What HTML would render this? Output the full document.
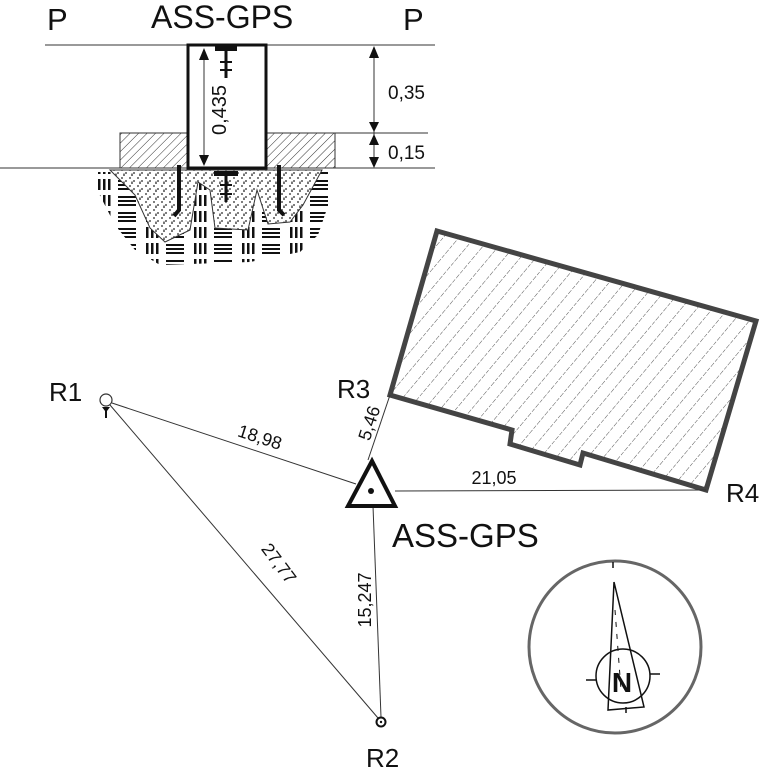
<!DOCTYPE html>
<html><head><meta charset="utf-8"><style>
html,body{margin:0;padding:0;background:#fff;width:761px;height:769px;overflow:hidden}
svg{display:block}
text{font-family:"Liberation Sans",sans-serif;fill:#111}
</style></head><body>
<svg width="761" height="769" viewBox="0 0 761 769" xmlns="http://www.w3.org/2000/svg">
<defs>
<pattern id="hatch" width="6" height="6" patternUnits="userSpaceOnUse" patternTransform="rotate(45)">
<line x1="0" y1="0" x2="0" y2="6" stroke="#333" stroke-width="1"/></pattern>
<pattern id="hatchB" width="12" height="12" patternUnits="userSpaceOnUse" patternTransform="rotate(40)">
<line x1="0" y1="0" x2="0" y2="12" stroke="#555" stroke-width="1" stroke-dasharray="4 1.5"/></pattern>
<pattern id="soil" width="48" height="16" patternUnits="userSpaceOnUse">
<rect x="2" y="3" width="2.5" height="11" fill="#111"/><rect x="7" y="3" width="2.5" height="11" fill="#111"/><rect x="12" y="3" width="2.5" height="11" fill="#111"/>
<rect x="22" y="4" width="18" height="2" fill="#111"/><rect x="22" y="8" width="18" height="2" fill="#111"/><rect x="22" y="12" width="18" height="2" fill="#111"/>
</pattern>
<pattern id="dots" width="8" height="8" patternUnits="userSpaceOnUse">
<circle cx="2" cy="2" r="0.9" fill="#222"/><circle cx="6" cy="5" r="0.9" fill="#222"/><ellipse cx="4" cy="7" rx="0.7" ry="1.8" fill="#333"/></pattern>
</defs>

<!-- top section -->
<text x="47" y="30" font-size="31">P</text>
<text x="151" y="28" font-size="32">ASS-GPS</text>
<text x="403" y="30" font-size="31">P</text>
<line x1="45" y1="45" x2="435" y2="45" stroke="#333" stroke-width="1"/>
<line x1="0" y1="168" x2="435" y2="168" stroke="#333" stroke-width="1"/>
<line x1="266" y1="133" x2="428" y2="133" stroke="#333" stroke-width="1"/>

<!-- soil -->
<path d="M88 172 L336 172 L330 200 L318 235 L300 252 L250 262 L160 265 L135 250 L115 225 Z" fill="url(#soil)"/>
<!-- concrete blobs -->
<path d="M110 170 L322 170 L303 205 L290 222 L268 224 L257 190 L248 230 L215 228 L210 190 L198 182 L190 230 L165 242 L150 228 L135 195 Z" fill="#fff" stroke="#333" stroke-width="1"/>
<path d="M110 170 L322 170 L303 205 L290 222 L268 224 L257 190 L248 230 L215 228 L210 190 L198 182 L190 230 L165 242 L150 228 L135 195 Z" fill="url(#dots)"/>

<rect x="120" y="133" width="67" height="35" fill="url(#hatch)" stroke="#333" stroke-width="1"/>
<rect x="266" y="133" width="69" height="35" fill="url(#hatch)" stroke="#333" stroke-width="1"/>
<rect x="188" y="45" width="78" height="123" fill="#fff" stroke="#111" stroke-width="3"/>
<!-- bolts -->
<rect x="215" y="46" width="22" height="5" fill="#111"/><line x1="226" y1="50" x2="226" y2="78" stroke="#111" stroke-width="3"/>
<line x1="220" y1="62" x2="232" y2="62" stroke="#111" stroke-width="2"/><line x1="220" y1="70" x2="232" y2="70" stroke="#111" stroke-width="2"/>
<rect x="214" y="171" width="24" height="5" fill="#111"/><line x1="226" y1="172" x2="226" y2="202" stroke="#111" stroke-width="3"/>
<line x1="220" y1="185" x2="232" y2="185" stroke="#111" stroke-width="2"/><line x1="220" y1="194" x2="232" y2="194" stroke="#111" stroke-width="2"/>
<path d="M179 165 L179 210 L174 216" fill="none" stroke="#111" stroke-width="4"/>
<path d="M279 165 L279 210 L284 215" fill="none" stroke="#111" stroke-width="4"/>
<!-- inner dim -->
<line x1="204" y1="50" x2="204" y2="164" stroke="#333" stroke-width="1"/>
<path d="M199 60 L204 48 L209 60 Z M199 155 L204 166 L209 155 Z" fill="#111"/>
<text transform="translate(226,110) rotate(-90)" font-size="20" text-anchor="middle">0,435</text>
<!-- right dims -->
<line x1="374" y1="47" x2="374" y2="166" stroke="#333" stroke-width="1"/>
<path d="M369 58 L374 46 L379 58 Z M369 122 L374 132 L379 122 Z M369 145 L374 134 L379 145 Z M369 157 L374 168 L379 157 Z" fill="#111"/>
<text x="388" y="99" font-size="19">0,35</text>
<text x="388" y="159" font-size="19">0,15</text>

<!-- building -->
<path d="M437 231 L756 321 L706 490 L583 453 L580 465 L510 444 L512 430 L390 395 Z" fill="url(#hatchB)" stroke="#444" stroke-width="5" stroke-linejoin="miter"/>

<!-- lines -->
<g stroke="#333" stroke-width="1">
<line x1="112" y1="403" x2="356" y2="484"/>
<line x1="110" y1="405" x2="378" y2="718"/>
<line x1="373" y1="506" x2="381" y2="717"/>
<line x1="368" y1="460" x2="390" y2="395"/>
<line x1="395" y1="491" x2="706" y2="490"/>
</g>
<!-- triangle -->
<path d="M372 461 L348 506 L395 506 Z" fill="#fff" stroke="#111" stroke-width="4" stroke-linejoin="miter"/>
<circle cx="371" cy="491" r="3" fill="#111"/>
<!-- R1 -->
<circle cx="106" cy="400" r="6" fill="#fff" stroke="#333" stroke-width="1.2"/>
<path d="M102 407 L110 407 L107 411 L107 418 L105 418 L105 411 Z" fill="#111"/>
<!-- R2 -->
<circle cx="381" cy="722" r="4.5" fill="#fff" stroke="#111" stroke-width="2"/>
<circle cx="381" cy="722" r="1.2" fill="#111"/>

<!-- labels -->
<text x="49" y="401" font-size="26">R1</text>
<text x="366" y="767" font-size="26">R2</text>
<text x="337" y="398" font-size="26">R3</text>
<text x="726" y="502" font-size="26">R4</text>
<text x="392" y="547" font-size="33">ASS-GPS</text>
<text transform="translate(258,443) rotate(18)" font-size="18" text-anchor="middle">18,98</text>
<text transform="translate(274,567) rotate(53)" font-size="18" text-anchor="middle">27,77</text>
<text transform="translate(371,600) rotate(-90)" font-size="18" text-anchor="middle">15,247</text>
<text transform="translate(375,425) rotate(-72)" font-size="18" text-anchor="middle">5,46</text>
<text x="494" y="484" font-size="18" text-anchor="middle">21,05</text>

<!-- compass -->
<circle cx="615" cy="647" r="86" fill="none" stroke="#666" stroke-width="3"/>
<line x1="613" y1="562" x2="613" y2="568" stroke="#111" stroke-width="1.5"/>
<circle cx="623" cy="676" r="27" fill="none" stroke="#111" stroke-width="1.5"/>
<line x1="586" y1="680" x2="596" y2="680" stroke="#111" stroke-width="1.5"/>
<line x1="650" y1="674" x2="660" y2="674" stroke="#111" stroke-width="1.5"/>
<path d="M614 582 L608 710 L644 707 Z" fill="none" stroke="#111" stroke-width="1.5"/>
<line x1="626" y1="707" x2="626" y2="713" stroke="#111" stroke-width="1.5"/>
<line x1="615" y1="610" x2="621" y2="690" stroke="#111" stroke-width="1" stroke-dasharray="5 7"/>
<text x="622" y="692" font-size="28" font-weight="bold" text-anchor="middle">N</text>
</svg>
</body></html>
